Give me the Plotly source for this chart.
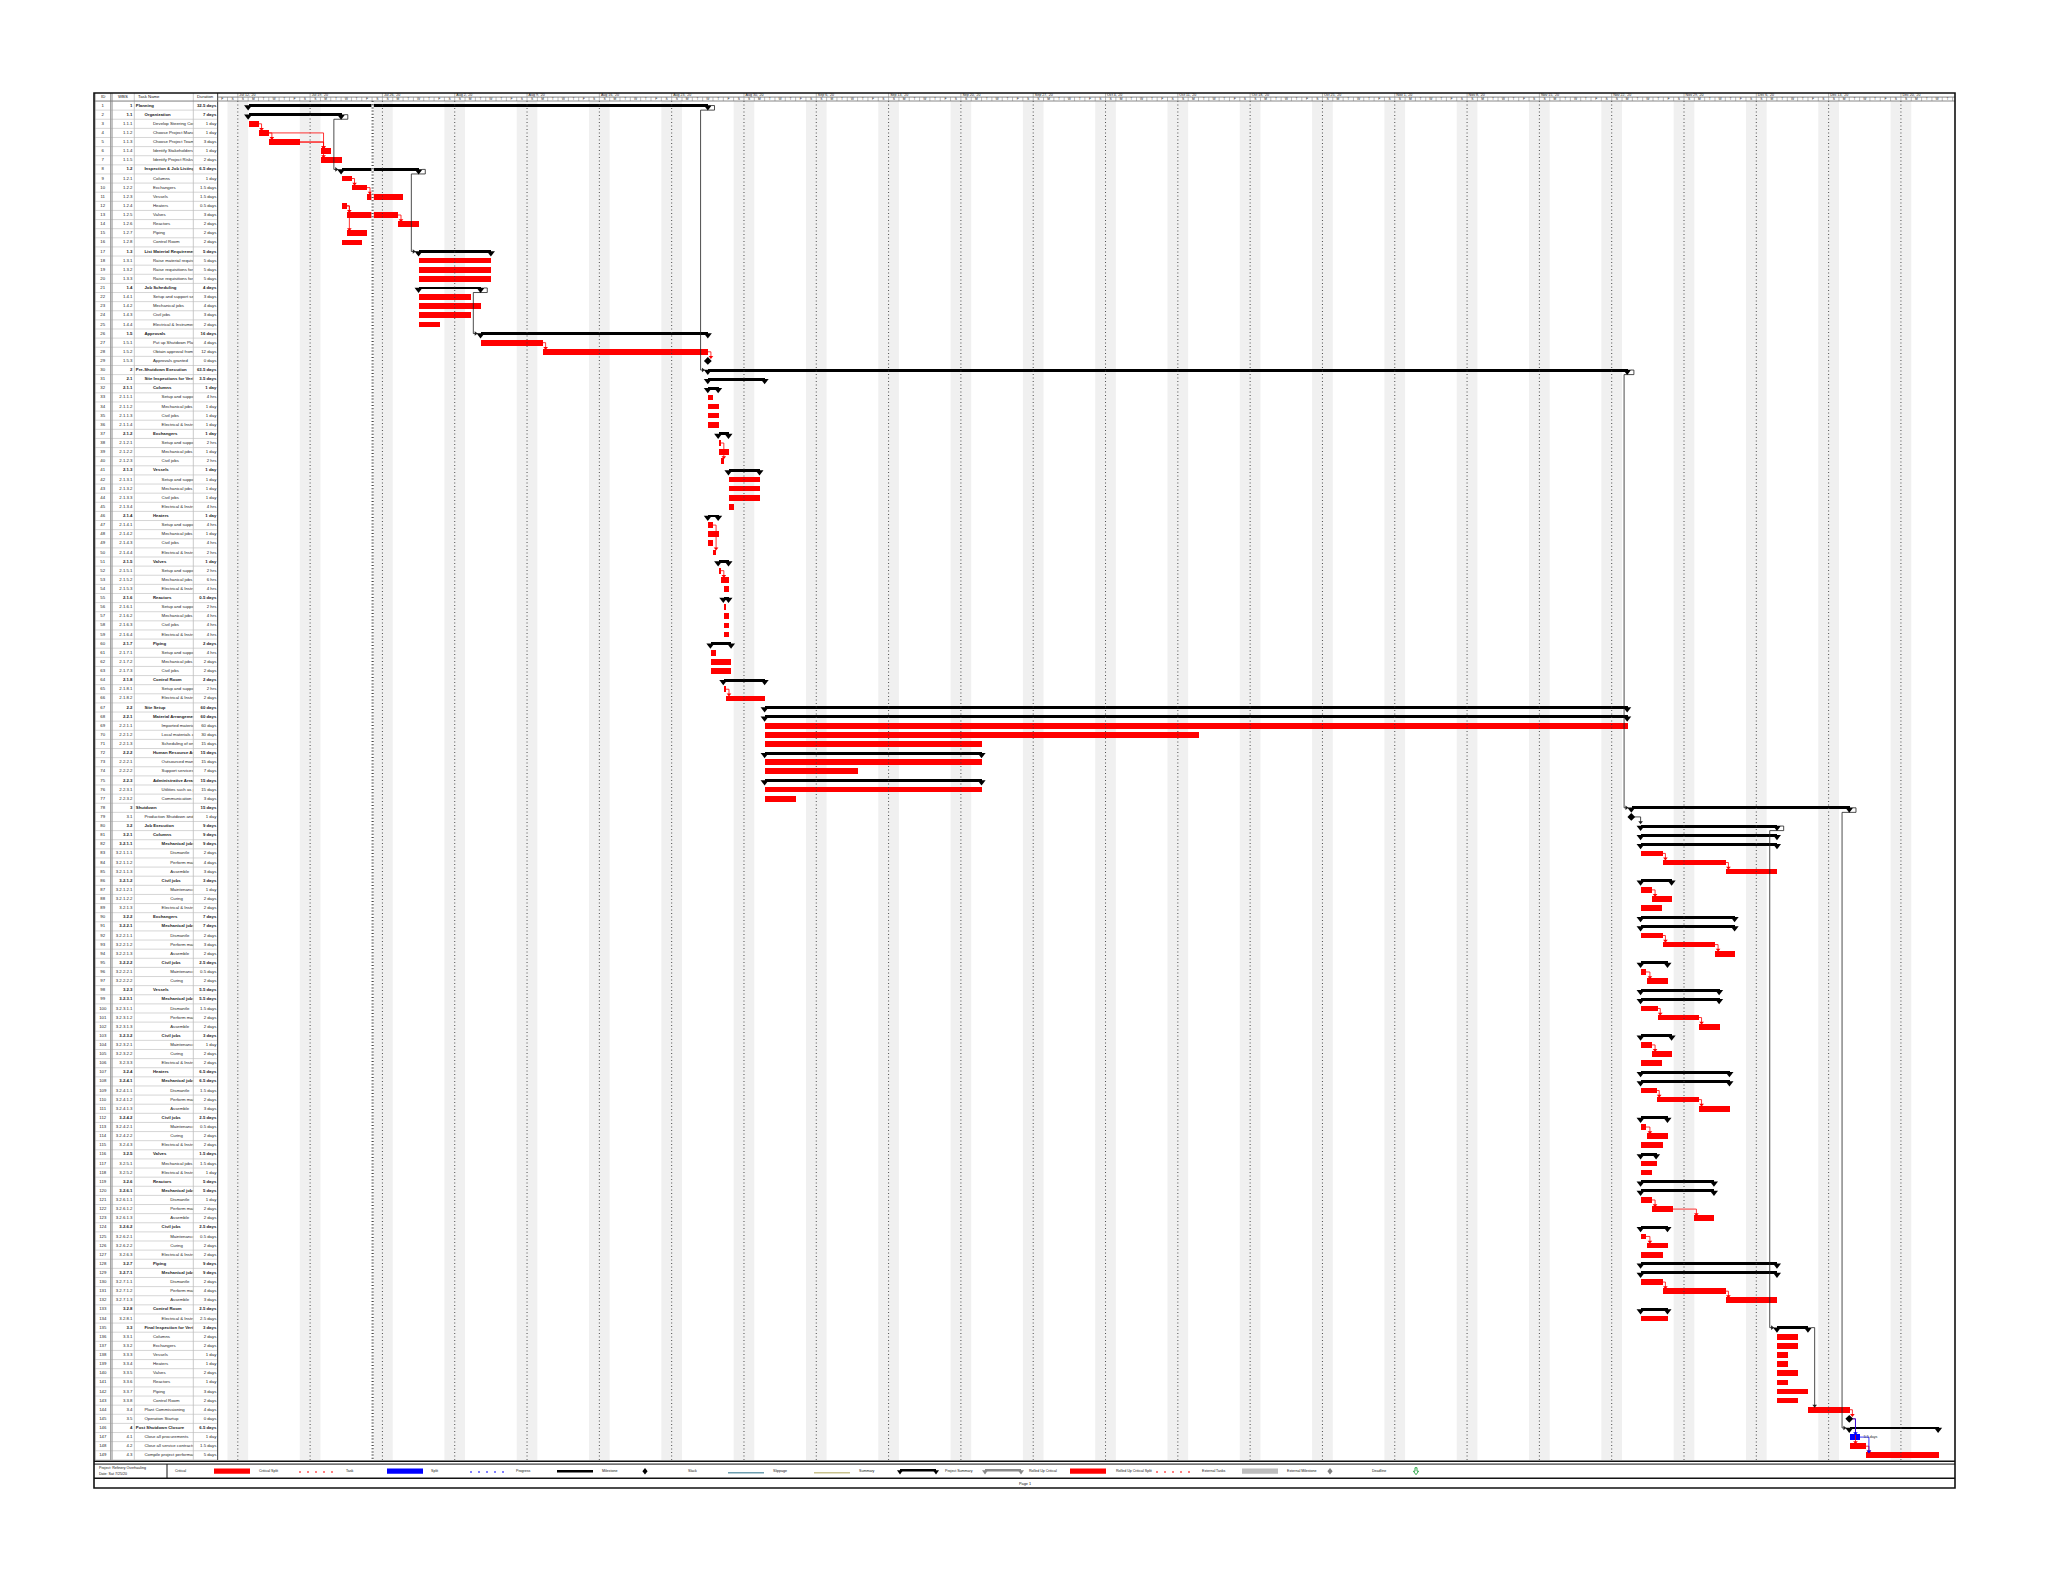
import plotly.graph_objects as go

# ---------------- page / figure geometry (reference pixels) ----------------
PAGE_W, PAGE_H = 2048, 1582
BODY = 8                      # default body margin of the written html page
FIG_W, FIG_H = PAGE_W - 2 * BODY, PAGE_H - 2 * BODY


def PX(x):
    return (x - BODY) / FIG_W


def PY(y):
    return 1 - (y - BODY) / FIG_H


FONT = "Liberation Sans, Arial, sans-serif"

# ---------------- data ----------------
wbs = [
    "1", "1.1", "1.1.1", "1.1.2", "1.1.3", "1.1.4", "1.1.5", "1.2", "1.2.1", "1.2.2",
    "1.2.3", "1.2.4", "1.2.5", "1.2.6", "1.2.7", "1.2.8", "1.3", "1.3.1", "1.3.2", "1.3.3",
    "1.4", "1.4.1", "1.4.2", "1.4.3", "1.4.4", "1.5", "1.5.1", "1.5.2", "1.5.3", "2",
    "2.1", "2.1.1", "2.1.1.1", "2.1.1.2", "2.1.1.3", "2.1.1.4", "2.1.2", "2.1.2.1", "2.1.2.2", "2.1.2.3",
    "2.1.3", "2.1.3.1", "2.1.3.2", "2.1.3.3", "2.1.3.4", "2.1.4", "2.1.4.1", "2.1.4.2", "2.1.4.3", "2.1.4.4",
    "2.1.5", "2.1.5.1", "2.1.5.2", "2.1.5.3", "2.1.6", "2.1.6.1", "2.1.6.2", "2.1.6.3", "2.1.6.4", "2.1.7",
    "2.1.7.1", "2.1.7.2", "2.1.7.3", "2.1.8", "2.1.8.1", "2.1.8.2", "2.2", "2.2.1", "2.2.1.1", "2.2.1.2",
    "2.2.1.3", "2.2.2", "2.2.2.1", "2.2.2.2", "2.2.3", "2.2.3.1", "2.2.3.2", "3", "3.1", "3.2",
    "3.2.1", "3.2.1.1", "3.2.1.1.1", "3.2.1.1.2", "3.2.1.1.3", "3.2.1.2", "3.2.1.2.1", "3.2.1.2.2", "3.2.1.3", "3.2.2",
    "3.2.2.1", "3.2.2.1.1", "3.2.2.1.2", "3.2.2.1.3", "3.2.2.2", "3.2.2.2.1", "3.2.2.2.2", "3.2.3", "3.2.3.1", "3.2.3.1.1",
    "3.2.3.1.2", "3.2.3.1.3", "3.2.3.2", "3.2.3.2.1", "3.2.3.2.2", "3.2.3.3", "3.2.4", "3.2.4.1", "3.2.4.1.1", "3.2.4.1.2",
    "3.2.4.1.3", "3.2.4.2", "3.2.4.2.1", "3.2.4.2.2", "3.2.4.3", "3.2.5", "3.2.5.1", "3.2.5.2", "3.2.6", "3.2.6.1",
    "3.2.6.1.1", "3.2.6.1.2", "3.2.6.1.3", "3.2.6.2", "3.2.6.2.1", "3.2.6.2.2", "3.2.6.3", "3.2.7", "3.2.7.1", "3.2.7.1.1",
    "3.2.7.1.2", "3.2.7.1.3", "3.2.8", "3.2.8.1", "3.3", "3.3.1", "3.3.2", "3.3.3", "3.3.4", "3.3.5",
    "3.3.6", "3.3.7", "3.3.8", "3.4", "3.5", "4", "4.1", "4.2", "4.3",
]

task_names = [
    "Planning", "Organization", "Develop Steering Committee", "Choose Project Manager", "Choose Project Team",
    "Identify Stakeholders", "Identify Project Risks", "Inspection & Job Listing", "Columns", "Exchangers",
    "Vessels", "Heaters", "Valves", "Reactors", "Piping",
    "Control Room", "List Material Requirements", "Raise material requisitions", "Raise requisitions for services", "Raise requisitions for subcontracts",
    "Job Scheduling", "Setup and support services", "Mechanical jobs", "Civil jobs", "Electrical & Instrumentation",
    "Approvals", "Put up Shutdown Plan for approval", "Obtain approval from client", "Approvals granted", "Pre-Shutdown Execution",
    "Site Inspections for Verification", "Columns", "Setup and support services", "Mechanical jobs", "Civil jobs",
    "Electrical & Instrumentation", "Exchangers", "Setup and support services", "Mechanical jobs", "Civil jobs",
    "Vessels", "Setup and support services", "Mechanical jobs", "Civil jobs", "Electrical & Instrumentation",
    "Heaters", "Setup and support services", "Mechanical jobs", "Civil jobs", "Electrical & Instrumentation",
    "Valves", "Setup and support services", "Mechanical jobs", "Electrical & Instrumentation", "Reactors",
    "Setup and support services", "Mechanical jobs", "Civil jobs", "Electrical & Instrumentation", "Piping",
    "Setup and support services", "Mechanical jobs", "Civil jobs", "Control Room", "Setup and support services",
    "Electrical & Instrumentation", "Site Setup", "Material Arrangement", "Imported material procurement", "Local materials arrangement",
    "Scheduling of on-site storage", "Human Resource Arrangement", "Outsourced manpower", "Support services for workers", "Administrative Arrangement",
    "Utilities such as power & water", "Communication systems", "Shutdown", "Production Shutdown and Purging", "Job Execution",
    "Columns", "Mechanical jobs", "Dismantle", "Perform maintenance", "Assemble",
    "Civil jobs", "Maintenance", "Curing", "Electrical & Instrumentation", "Exchangers",
    "Mechanical jobs", "Dismantle", "Perform maintenance", "Assemble", "Civil jobs",
    "Maintenance", "Curing", "Vessels", "Mechanical jobs", "Dismantle",
    "Perform maintenance", "Assemble", "Civil jobs", "Maintenance", "Curing",
    "Electrical & Instrumentation", "Heaters", "Mechanical jobs", "Dismantle", "Perform maintenance",
    "Assemble", "Civil jobs", "Maintenance", "Curing", "Electrical & Instrumentation",
    "Valves", "Mechanical jobs", "Electrical & Instrumentation", "Reactors", "Mechanical jobs",
    "Dismantle", "Perform maintenance", "Assemble", "Civil jobs", "Maintenance",
    "Curing", "Electrical & Instrumentation", "Piping", "Mechanical jobs", "Dismantle",
    "Perform maintenance", "Assemble", "Control Room", "Electrical & Instrumentation", "Final Inspection for Verification",
    "Columns", "Exchangers", "Vessels", "Heaters", "Valves",
    "Reactors", "Piping", "Control Room", "Plant Commissioning", "Operation Startup",
    "Post Shutdown Closure", "Close all procurements", "Close all service contracts", "Compile project performance report",
]

durations = [
    "32.5 days", "7 days", "1 day", "1 day", "3 days", "1 day", "2 days", "6.5 days", "1 day", "1.5 days",
    "1.5 days", "0.5 days", "3 days", "2 days", "2 days", "2 days", "5 days", "5 days", "5 days", "5 days",
    "4 days", "3 days", "4 days", "3 days", "2 days", "16 days", "4 days", "12 days", "0 days", "63.5 days",
    "3.5 days", "1 day", "4 hrs", "1 day", "1 day", "1 day", "1 day", "2 hrs", "1 day", "2 hrs",
    "1 day", "1 day", "1 day", "1 day", "4 hrs", "1 day", "4 hrs", "1 day", "4 hrs", "2 hrs",
    "1 day", "2 hrs", "6 hrs", "4 hrs", "0.5 days", "2 hrs", "4 hrs", "4 hrs", "4 hrs", "2 days",
    "4 hrs", "2 days", "2 days", "2 days", "2 hrs", "2 days", "60 days", "60 days", "60 days", "30 days",
    "15 days", "15 days", "15 days", "7 days", "15 days", "15 days", "3 days", "15 days", "1 day", "9 days",
    "9 days", "9 days", "2 days", "4 days", "3 days", "3 days", "1 day", "2 days", "2 days", "7 days",
    "7 days", "2 days", "3 days", "2 days", "2.5 days", "0.5 days", "2 days", "5.5 days", "5.5 days", "1.5 days",
    "2 days", "2 days", "3 days", "1 day", "2 days", "2 days", "6.5 days", "6.5 days", "1.5 days", "2 days",
    "3 days", "2.5 days", "0.5 days", "2 days", "2 days", "1.5 days", "1.5 days", "1 day", "5 days", "5 days",
    "1 day", "2 days", "2 days", "2.5 days", "0.5 days", "2 days", "2 days", "9 days", "9 days", "2 days",
    "4 days", "3 days", "2.5 days", "2.5 days", "3 days", "2 days", "2 days", "1 day", "1 day", "2 days",
    "1 day", "3 days", "2 days", "4 days", "0 days", "6.5 days", "1 day", "1.5 days", "5 days",
]

# bar positions, in days after Sun Jul 12 2020
start_day = [
    1, 1, 1, 2, 3, 8, 8, 10, 10, 11,
    12.5, 10, 10.5, 15.5, 10.5, 10, 17.5, 17.5, 17.5, 17.5,
    17.5, 17.5, 17.5, 17.5, 17.5, 23.5, 23.5, 29.5, 45.5, 45.5,
    45.5, 45.5, 45.5, 45.5, 45.5, 45.5, 46.5, 46.5, 46.5, 46.75,
    47.5, 47.5, 47.5, 47.5, 47.5, 45.5, 45.5, 45.5, 45.5, 46,
    46.5, 46.5, 46.75, 47, 47, 47, 47, 47, 47, 45.75,
    45.75, 45.75, 45.75, 47, 47, 47.25, 51, 51, 51, 51,
    51, 51, 51, 51, 51, 51, 51, 134.9, 134.9, 135.8,
    135.8, 135.8, 135.8, 137.9, 144, 135.8, 135.8, 136.9, 135.8, 135.8,
    135.8, 135.8, 137.9, 143, 135.8, 135.8, 136.4, 135.8, 135.8, 135.8,
    137.4, 141.4, 135.8, 135.8, 136.9, 135.8, 135.8, 135.8, 135.8, 137.3,
    141.4, 135.8, 135.8, 136.4, 135.8, 135.8, 135.8, 135.8, 135.8, 135.8,
    135.8, 136.9, 140.9, 135.8, 135.8, 136.4, 135.8, 135.8, 135.8, 135.8,
    137.9, 144, 135.8, 135.8, 149, 149, 149, 149, 149, 149,
    149, 149, 149, 152, 156, 156, 156, 156, 157.6,
]
finish_day = [
    45.5, 10, 2, 3, 6, 9, 10, 17.5, 11, 12.5,
    16, 10.5, 15.5, 17.5, 12.5, 12, 24.5, 24.5, 24.5, 24.5,
    23.5, 22.5, 23.5, 22.5, 19.5, 45.5, 29.5, 45.5, 45.5, 134.5,
    51, 46.5, 46, 46.5, 46.5, 46.5, 47.5, 46.75, 47.5, 47,
    50.5, 50.5, 50.5, 50.5, 48, 46.5, 46, 46.5, 46, 46.25,
    47.5, 46.75, 47.5, 47.5, 47.5, 47.25, 47.5, 47.5, 47.5, 47.75,
    46.25, 47.75, 47.75, 51, 47.25, 51, 134.5, 134.5, 134.5, 93,
    72, 72, 72, 60, 72, 72, 54, 156, 134.9, 149,
    149, 149, 137.9, 144, 149, 138.8, 136.9, 138.8, 137.8, 144.9,
    144.9, 137.9, 143, 144.9, 138.4, 136.3, 138.4, 143.4, 143.4, 137.4,
    141.4, 143.4, 138.8, 136.9, 138.8, 137.8, 144.4, 144.4, 137.3, 141.4,
    144.4, 138.4, 136.3, 138.4, 137.9, 137.3, 137.3, 136.9, 142.9, 142.9,
    136.9, 138.9, 142.9, 138.4, 136.3, 138.4, 137.9, 149, 149, 137.9,
    144, 149, 138.4, 138.4, 152, 151, 151, 150, 150, 151,
    150, 152, 151, 156, 156, 164.6, 157, 157.6, 164.6,
]

summary_ids = [1, 2, 8, 17, 21, 26, 30, 31, 32, 37, 41, 46, 51, 55, 60, 64, 67, 68, 72, 75,
               78, 80, 81, 82, 86, 90, 91, 95, 98, 99, 103, 107, 108, 112, 116, 119, 120, 124,
               128, 129, 133, 135, 146]
milestone_ids = [29, 79, 145]
noncritical_ids = [147]

# dependency links: (predecessor, successor, colour, route)
links = [
    (3, 4, "r", "d"), (4, 5, "r", "d"), (4, 6, "r", "d"), (5, 6, "r", "d"), (5, 7, "r", "d"),
    (2, 8, "k", "s"), (9, 10, "r", "d"), (10, 11, "r", "d"), (12, 13, "r", "d"), (12, 15, "r", "d"),
    (13, 14, "r", "d"), (8, 17, "k", "s"), (21, 26, "k", "s"), (27, 28, "r", "d"), (28, 29, "r", "d"),
    (1, 30, "k", "s"), (30, 78, "k", "s"), (79, 80, "k", "d"), (80, 135, "k", "s"), (78, 146, "k", "s"),
    (135, 144, "k", "d"), (144, 145, "r", "d"), (145, 147, "b", "d"), (145, 148, "r", "d"),
    (147, 149, "b", "d"), (148, 149, "r", "d"),
    (38, 40, "r", "d"), (47, 50, "r", "d"), (52, 53, "r", "d"), (65, 66, "r", "d"),
    (83, 84, "r", "d"), (84, 85, "r", "d"), (87, 88, "r", "d"), (92, 93, "r", "d"), (93, 94, "r", "d"),
    (96, 97, "r", "d"), (100, 101, "r", "d"), (101, 102, "r", "d"), (104, 105, "r", "d"),
    (109, 110, "r", "d"), (110, 111, "r", "d"), (113, 114, "r", "d"), (121, 122, "r", "d"),
    (122, 123, "r", "d"), (125, 126, "r", "d"), (130, 131, "r", "d"), (131, 132, "r", "d"),
]

week_labels = ["Jul 12, '20", "Jul 19, '20", "Jul 26, '20", "Aug 2, '20", "Aug 9, '20", "Aug 16, '20",
               "Aug 23, '20", "Aug 30, '20", "Sep 6, '20", "Sep 13, '20", "Sep 20, '20", "Sep 27, '20",
               "Oct 4, '20", "Oct 11, '20", "Oct 18, '20", "Oct 25, '20", "Nov 1, '20", "Nov 8, '20",
               "Nov 15, '20", "Nov 22, '20", "Nov 29, '20", "Dec 6, '20", "Dec 13, '20", "Dec 20, '20"]
day_letters = ["S", "M", "T", "W", "T", "F", "S"]
status_day = 13.05
slack_label = "5.5 days"

legend_labels = ["Critical", "Critical Split", "Task", "Split", "Progress", "Milestone", "Slack",
                 "Slippage", "Summary", "Project Summary", "Rolled Up Critical",
                 "Rolled Up Critical Split", "External Tasks", "External Milestone", "Deadline"]
project_lines = ["Project: Refinery Overhauling", "Date: Sat 7/25/20"]
page_label = "Page 1"

assert len(wbs) == len(task_names) == len(durations) == len(start_day) == len(finish_day) == 149

# ---------------- layout geometry (reference pixels) ----------------
FRAME_L, FRAME_R, FRAME_T, FRAME_B = 94, 1955, 93, 1488
COL_ID_R, COL_WBS_R, COL_NAME_R, TABLE_R = 111.5, 134.3, 193.3, 217.6
TIER_Y, HEAD_B, ROW_H = 97.2, 101.0, 9.12
N = len(wbs)
ROWS_B = HEAD_B + N * ROW_H
DAY0_PX, DAY_PX = 237.8, 10.33
X_MIN = (TABLE_R - DAY0_PX) / DAY_PX
X_MAX = (FRAME_R - DAY0_PX) / DAY_PX
TXT = 4.3

RED, BLUE, BLACK = "#FF0000", "#0000FF", "#000000"

rows = list(range(1, N + 1))
level = [w.count(".") + 1 for w in wbs]
kind = []
for i in rows:
    if i in summary_ids:
        kind.append("s")
    elif i in milestone_ids:
        kind.append("m")
    elif i in noncritical_ids:
        kind.append("b")
    else:
        kind.append("t")


def bold(t, on):
    return f"<b>{t}</b>" if on else t


fig = go.Figure()
shapes = []
annotations = []


def pline(x0, y0, x1, y1, color=BLACK, width=1.0, dash=None):
    ln = dict(color=color, width=width)
    if dash:
        ln["dash"] = dash
    shapes.append(dict(type="line", xref="paper", yref="paper", x0=PX(x0), y0=PY(y0),
                       x1=PX(x1), y1=PY(y1), line=ln, layer="above"))


def prect(x0, y0, x1, y1, fill, lc=None, lw=0):
    shapes.append(dict(type="rect", xref="paper", yref="paper", x0=PX(x0), y0=PY(y0),
                       x1=PX(x1), y1=PY(y1), fillcolor=fill,
                       line=dict(color=lc or fill, width=lw), layer="above"))


def ptext(x, y, s, size=TXT, anchor="left", color="#111", bold_on=False):
    annotations.append(dict(x=PX(x), y=PY(y), xref="paper", yref="paper", text=bold(s, bold_on),
                            showarrow=False, xanchor=anchor, yanchor="middle",
                            font=dict(size=size, color=color, family=FONT)))


# ---------------- gantt background ----------------
for k in range(0, 25):
    sat = -1 + 7 * k
    shapes.append(dict(type="rect", xref="x", yref="y", x0=sat, x1=sat + 2, y0=0.5, y1=N + 0.5,
                       fillcolor="#F0F0F0", line=dict(width=0), layer="below"))

gx, gy = [], []
for k in range(len(week_labels)):
    gx += [7 * k, 7 * k, None]
    gy += [0.5, N + 0.5, None]
fig.add_trace(go.Scatter(x=gx, y=gy, mode="lines", xaxis="x", yaxis="y", hoverinfo="skip",
                         line=dict(color="#3a3a3a", width=0.9, dash="1px,2.5px")))

# ---------------- links ----------------
def cap_ext(i):
    return 0.35 if kind[i - 1] == "s" else (0.3 if kind[i - 1] == "m" else 0.0)


link_col = {"r": RED, "k": "#202020", "b": BLUE}
lx = {c: [] for c in link_col}
ly = {c: [] for c in link_col}
adx = {c: [] for c in link_col}
ady = {c: [] for c in link_col}
arx = {c: [] for c in link_col}
ary = {c: [] for c in link_col}
for p, s, c, route in links:
    xe = finish_day[p - 1] + cap_ext(p)
    xs = start_day[s - 1]
    if route == "d":
        if kind[s - 1] == "s":
            xv = max(xs, xe + 0.1)
        else:
            xv = max(xs, xe) + 0.3
        top = s - (0.31 if kind[s - 1] in "tb" else 0.3)
        lx[c] += [xe, xv, xv, None]
        ly[c] += [p, p, top - 0.12, None]
        adx[c].append(xv)
        ady[c].append(top - 0.12)
    else:
        xr = xe + 0.3
        xt = xs - cap_ext(s)
        xl = xt - 0.35
        lx[c] += [xe, xr, xr, xl, xl, xt - 0.1, None]
        ly[c] += [p, p, p + 0.5, p + 0.5, s, s, None]
        arx[c].append(xt - 0.12)
        ary[c].append(s)
for c, col in link_col.items():
    if lx[c]:
        fig.add_trace(go.Scatter(x=lx[c], y=ly[c], mode="lines", xaxis="x", yaxis="y",
                                 hoverinfo="skip", line=dict(color=col, width=0.8)))
    if adx[c]:
        fig.add_trace(go.Scatter(x=adx[c], y=ady[c], mode="markers", xaxis="x", yaxis="y",
                                 hoverinfo="skip",
                                 marker=dict(symbol="triangle-down", size=4, color=col)))
    if arx[c]:
        fig.add_trace(go.Scatter(x=arx[c], y=ary[c], mode="markers", xaxis="x", yaxis="y",
                                 hoverinfo="skip",
                                 marker=dict(symbol="triangle-right", size=4, color=col)))

# ---------------- bars ----------------
def sel(k):
    return [i for i in rows if kind[i - 1] == k]


srows = sel("s")
fig.add_trace(go.Bar(orientation="h", y=srows, base=[start_day[i - 1] for i in srows],
                     x=[finish_day[i - 1] - start_day[i - 1] for i in srows], width=0.32,
                     marker=dict(color=BLACK, line=dict(width=0)), xaxis="x", yaxis="y",
                     hoverinfo="skip"))
fig.add_trace(go.Scatter(x=[start_day[i - 1] for i in srows] + [finish_day[i - 1] for i in srows],
                         y=[i + 0.17 for i in srows] * 2, mode="markers", xaxis="x", yaxis="y",
                         hoverinfo="skip",
                         marker=dict(symbol="triangle-down", size=7, color=BLACK, line=dict(width=0))))

for k, col in (("t", RED), ("b", BLUE)):
    r_ = sel(k)
    fig.add_trace(go.Bar(orientation="h", y=r_, base=[start_day[i - 1] for i in r_],
                         x=[finish_day[i - 1] - start_day[i - 1] for i in r_], width=0.62,
                         marker=dict(color=col, line=dict(width=0)), xaxis="x", yaxis="y",
                         hoverinfo="skip"))

mrows = sel("m")
fig.add_trace(go.Scatter(x=[start_day[i - 1] for i in mrows], y=mrows, mode="markers",
                         xaxis="x", yaxis="y", hoverinfo="skip",
                         marker=dict(symbol="diamond", size=6, color=BLACK, line=dict(width=0))))

brows = sel("b")
fig.add_trace(go.Scatter(x=[finish_day[i - 1] + 0.4 for i in brows], y=brows, mode="text",
                         text=[slack_label] * len(brows), textposition="middle right",
                         xaxis="x", yaxis="y", hoverinfo="skip",
                         textfont=dict(size=3.6, color="#222", family=FONT)))

# status date line (drawn over the bars)
shapes.append(dict(type="line", xref="x", yref="y", x0=status_day, x1=status_day, y0=0.5, y1=N + 0.5,
                   line=dict(color="white", width=2.4), layer="above"))
shapes.append(dict(type="line", xref="x", yref="y", x0=status_day, x1=status_day, y0=0.5, y1=N + 0.5,
                   line=dict(color="#4a4a4a", width=2.2, dash="1px,2.2px"), layer="above"))

# ---------------- timescale header ----------------
hx, hy = [], []
for d in range(-2, 168):
    hx += [d, d, None]
    hy += [0, 1, None]
for k in range(-1, len(week_labels) + 1):
    hx += [7 * k, 7 * k, None]
    hy += [1, 2, None]
hx += [X_MIN, X_MAX, None]
hy += [1, 1, None]
fig.add_trace(go.Scatter(x=hx, y=hy, mode="lines", xaxis="x", yaxis="y2", hoverinfo="skip",
                         line=dict(color="#8c8c8c", width=0.6)))
fig.add_trace(go.Scatter(x=[7 * k + 0.15 for k in range(len(week_labels))], y=[1.5] * len(week_labels),
                         text=week_labels, mode="text", textposition="middle right",
                         xaxis="x", yaxis="y2", hoverinfo="skip",
                         textfont=dict(size=3.6, color="#222", family=FONT)))
days = list(range(-2, 167))
fig.add_trace(go.Scatter(x=[d + 0.5 for d in days], y=[0.5] * len(days),
                         text=[day_letters[d % 7] for d in days], mode="text",
                         textposition="middle center", xaxis="x", yaxis="y2", hoverinfo="skip",
                         textfont=dict(size=3.3, color="#222", family=FONT)))

# ---------------- table ----------------
tx, ty = [], []
for i in range(0, N + 1):
    tx += [FRAME_L, TABLE_R, None]
    ty += [i + 0.5, i + 0.5, None]
fig.add_trace(go.Scatter(x=tx, y=ty, mode="lines", xaxis="x3", yaxis="y", hoverinfo="skip",
                         line=dict(color="#C4C4C4", width=0.7)))

summ = [k == "s" for k in kind]
fig.add_trace(go.Scatter(x=[(FRAME_L + COL_ID_R) / 2] * N, y=rows, text=[str(i) for i in rows],
                         mode="text", textposition="middle center", xaxis="x3", yaxis="y",
                         hoverinfo="skip", cliponaxis=False,
                         textfont=dict(size=TXT, color="#222", family=FONT)))
fig.add_trace(go.Scatter(x=[COL_WBS_R - 1.8] * N, y=rows,
                         text=[bold(w, b) for w, b in zip(wbs, summ)],
                         mode="text", textposition="middle left", xaxis="x3", yaxis="y",
                         hoverinfo="skip", cliponaxis=False,
                         textfont=dict(size=TXT, color="#222", family=FONT)))
fig.add_trace(go.Scatter(x=[TABLE_R - 1.3] * N, y=rows,
                         text=[bold(d, b) for d, b in zip(durations, summ)],
                         mode="text", textposition="middle left", xaxis="x3", yaxis="y",
                         hoverinfo="skip", cliponaxis=False,
                         textfont=dict(size=TXT, color="#222", family=FONT)))
fig.add_trace(go.Scatter(x=[COL_WBS_R + 1.5 + (lv - 1) * 8.6 for lv in level], y=rows,
                         text=[bold(t, b) for t, b in zip(task_names, summ)],
                         mode="text", textposition="middle right", xaxis="x2", yaxis="y",
                         hoverinfo="skip", cliponaxis=True,
                         textfont=dict(size=TXT, color="#222", family=FONT)))

# table column lines and header
for xc, col, w in ((COL_ID_R - 0.8, "#9a9a9a", 1.2), (COL_ID_R + 0.6, "#9a9a9a", 1.0),
                   (COL_WBS_R, "#bdbdbd", 0.8), (COL_NAME_R, "#bdbdbd", 0.8)):
    pline(xc, FRAME_T, xc, ROWS_B, col, w)
pline(TABLE_R, FRAME_T, TABLE_R, ROWS_B, "#555555", 1.2)
pline(FRAME_L + 1, FRAME_T, FRAME_L + 1, ROWS_B, "#9a9a9a", 1.2)
pline(FRAME_L, HEAD_B, FRAME_R, HEAD_B, "#7a7a7a", 0.9)
pline(TABLE_R, TIER_Y, FRAME_R, TIER_Y, "#8c8c8c", 0.6)
hy_mid = (FRAME_T + HEAD_B) / 2
ptext((FRAME_L + COL_ID_R) / 2, hy_mid, "ID", anchor="center")
ptext(COL_ID_R + 11, hy_mid, "WBS", anchor="center")
ptext(COL_WBS_R + 1.5, hy_mid, "Task Name", anchor="left")
ptext((COL_NAME_R + TABLE_R) / 2, hy_mid, "Duration", anchor="center")

# ---------------- frame ----------------
prect(FRAME_L, FRAME_T, FRAME_R, FRAME_B, "rgba(0,0,0,0)", "#111111", 1.6)
pline(FRAME_L, ROWS_B + 1.3, FRAME_R, ROWS_B + 1.3, "#111111", 1.4)
pline(FRAME_L, ROWS_B + 4.2, FRAME_R, ROWS_B + 4.2, "#111111", 1.0)
LEG_T, LEG_B = ROWS_B + 4.2, 1478.3
pline(FRAME_L, LEG_B, FRAME_R, LEG_B, "#111111", 1.4)
pline(167, LEG_T, 167, LEG_B, "#111111", 1.0)
ptext(96.5, LEG_T + 3.6, project_lines[0], size=3.6)
ptext(96.5, LEG_T + 9.6, project_lines[1], size=3.6)
ptext((FRAME_L + FRAME_R) / 2, 1483.6, page_label, size=3.8, anchor="center")

# ---------------- legend ----------------
LY = (LEG_T + LEG_B) / 2
label_x = [173, 257, 344, 429, 514, 600, 686, 771, 857, 943, 1027, 1114, 1200, 1285, 1370]
sym_x0 = [214, 300, 387, 471, 557, 645, 728, 814, 900, 985, 1070, 1157, 1242, 1330, 1416]
sym_len = 36
for lab, lx0, sx in zip(legend_labels, label_x, sym_x0):
    ptext(lx0, LY, lab, size=3.6)
    if lab in ("Critical", "Rolled Up Critical"):
        prect(sx, LY - 2.6, sx + sym_len, LY + 2.6, RED)
    elif lab == "Task":
        prect(sx, LY - 2.6, sx + sym_len, LY + 2.6, BLUE)
    elif lab == "External Tasks":
        prect(sx, LY - 2.6, sx + sym_len, LY + 2.6, "#BDBDBD")
    elif lab in ("Critical Split", "Rolled Up Critical Split"):
        for j in range(5):
            pline(sx + j * 8, LY - 0.2, sx + j * 8, LY + 1.8, RED, 1.0)
    elif lab == "Split":
        for j in range(5):
            pline(sx + j * 8, LY - 0.2, sx + j * 8, LY + 1.8, BLUE, 1.0)
    elif lab == "Progress":
        prect(sx, LY - 1.2, sx + sym_len, LY + 1.2, BLACK)
    elif lab in ("Milestone", "External Milestone"):
        col = BLACK if lab == "Milestone" else "#808080"
        shapes.append(dict(type="path", xref="paper", yref="paper",
                           path=f"M {PX(sx)} {PY(LY - 3.2)} L {PX(sx + 2.6)} {PY(LY)} "
                                f"L {PX(sx)} {PY(LY + 3.2)} L {PX(sx - 2.6)} {PY(LY)} Z",
                           fillcolor=col, line=dict(width=0), layer="above"))
    elif lab == "Slack":
        pline(sx, LY + 1.5, sx + sym_len, LY + 1.5, "#6E9FB0", 1.4)
    elif lab == "Slippage":
        pline(sx, LY + 1.5, sx + sym_len, LY + 1.5, "#C9C38E", 1.4)
    elif lab in ("Summary", "Project Summary"):
        col = BLACK if lab == "Summary" else "#8A8A8A"
        prect(sx, LY - 2.2, sx + sym_len, LY + 0.4, col)
        for cx in (sx, sx + sym_len):
            shapes.append(dict(type="path", xref="paper", yref="paper",
                               path=f"M {PX(cx - 3)} {PY(LY - 1)} L {PX(cx + 3)} {PY(LY - 1)} "
                                    f"L {PX(cx)} {PY(LY + 3.4)} Z",
                               fillcolor=col, line=dict(width=0), layer="above"))
    elif lab == "Deadline":
        shapes.append(dict(type="path", xref="paper", yref="paper",
                           path=f"M {PX(sx - 1)} {PY(LY - 3.5)} L {PX(sx + 1)} {PY(LY - 3.5)} "
                                f"L {PX(sx + 1)} {PY(LY)} L {PX(sx + 2.6)} {PY(LY)} "
                                f"L {PX(sx)} {PY(LY + 3.5)} L {PX(sx - 2.6)} {PY(LY)} "
                                f"L {PX(sx - 1)} {PY(LY)} Z",
                           fillcolor="white", line=dict(color="#1E9E3A", width=0.9), layer="above"))

fig.update_layout(
    width=FIG_W, height=FIG_H, margin=dict(l=0, r=0, t=0, b=0),
    paper_bgcolor="white", plot_bgcolor="rgba(0,0,0,0)",
    showlegend=False, barmode="overlay", bargap=0, hovermode=False,
    xaxis=dict(domain=[PX(TABLE_R), PX(FRAME_R)], range=[X_MIN, X_MAX], visible=False, anchor="y"),
    yaxis=dict(domain=[PY(ROWS_B), PY(HEAD_B)], range=[N + 0.5, 0.5], visible=False, anchor="x"),
    xaxis2=dict(domain=[PX(COL_WBS_R), PX(COL_NAME_R)], range=[COL_WBS_R, COL_NAME_R],
                visible=False, anchor="y"),
    xaxis3=dict(domain=[PX(FRAME_L), PX(TABLE_R)], range=[FRAME_L, TABLE_R], visible=False,
                anchor="y"),
    yaxis2=dict(domain=[PY(HEAD_B), PY(FRAME_T)], range=[0, 2], visible=False, anchor="x"),
    shapes=shapes, annotations=annotations,
)

fig.write_html("out.html")
